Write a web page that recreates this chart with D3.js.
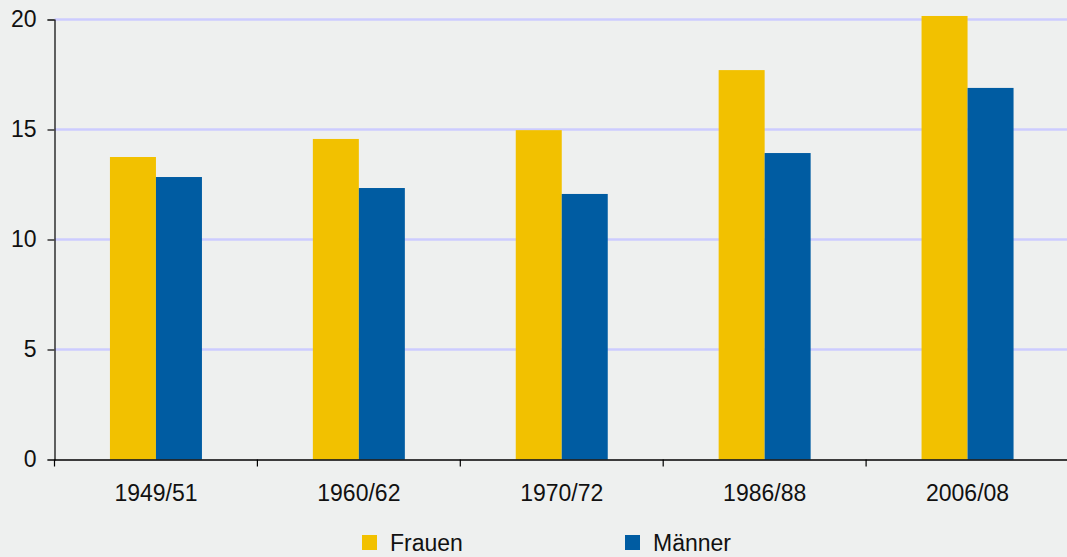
<!DOCTYPE html>
<html>
<head>
<meta charset="utf-8">
<script src="https://cdn.jsdelivr.net/npm/d3@7"></script>
<style>
  body { margin: 0; background: #eef0ef; }
  svg { display: block; font-family: "Liberation Sans", Arial, sans-serif; }
</style>
</head>
<body>
<svg width="1067" height="557"></svg>
<script>
const categories = ['1949/51', '1960/62', '1970/72', '1986/88', '2006/08'];
const series = ['Frauen', 'Männer'];
const frauen = [13.75, 14.57, 14.97, 17.7, 20.16];
const maenner = [12.84, 12.34, 12.07, 13.93, 16.89];
const yTicks = [0, 5, 10, 15, 20];
const colors = ['#f2c100', '#005ca2'];

const svg = d3.select('svg');
const plotLeft = 54.5, plotRight = 1069, plotTop = 19.5, plotBottom = 459.5;

const x = d3.scaleBand().domain(categories).range([plotLeft, plotRight]);
const xInner = d3.scaleBand().domain(series).range([0, 92]);
const y = d3.scaleLinear().domain([0, 20]).range([plotBottom, plotTop]);

// gridlines
svg.append('g')
  .selectAll('line')
  .data(yTicks.filter(d => d > 0))
  .enter()
  .append('line')
  .attr('x1', plotLeft)
  .attr('x2', 1067)
  .attr('y1', d => y(d))
  .attr('y2', d => y(d))
  .attr('stroke', '#ccccff')
  .attr('stroke-width', 2.5);

// bars
const rows = categories.map((c, i) => ({ cat: c, values: [frauen[i], maenner[i]] }));
const groups = svg.append('g')
  .selectAll('g')
  .data(rows)
  .enter()
  .append('g')
  .attr('transform', d => `translate(${x(d.cat) + (x.bandwidth() - 92) / 2},0)`);

groups.selectAll('rect')
  .data(d => d.values.map((v, j) => ({ key: series[j], v, j })))
  .enter()
  .append('rect')
  .attr('x', d => xInner(d.key))
  .attr('width', xInner.bandwidth())
  .attr('y', d => y(d.v))
  .attr('height', d => y(0) - y(d.v))
  .attr('fill', d => colors[d.j]);

// y axis
const yAxis = svg.append('g')
  .attr('transform', `translate(${plotLeft},0)`)
  .call(d3.axisLeft(y).tickValues(yTicks).tickSize(7).tickPadding(11));
yAxis.select('.domain').attr('stroke', '#000').attr('stroke-width', 1.2);
yAxis.selectAll('line').attr('stroke', '#333').attr('stroke-width', 1.5);
yAxis.selectAll('text').attr('font-size', 23).attr('fill', '#111');

// x axis
const xAxis = svg.append('g')
  .attr('transform', `translate(0,${plotBottom})`)
  .call(d3.axisBottom(x).tickSize(0).tickPadding(25));
xAxis.select('.domain').attr('d', `M${plotLeft},0.5H1067`).attr('stroke', '#000').attr('stroke-width', 1.5);
xAxis.selectAll('text').attr('font-size', 23).attr('fill', '#111');

// band boundary ticks
xAxis.append('g')
  .selectAll('line')
  .data(categories)
  .enter()
  .append('line')
  .attr('x1', d => x(d))
  .attr('x2', d => x(d))
  .attr('y1', 0)
  .attr('y2', 7)
  .attr('stroke', '#000')
  .attr('stroke-width', 1.2);

// legend
const legendX = [362, 625];
const legend = svg.append('g')
  .selectAll('g')
  .data(series)
  .enter()
  .append('g')
  .attr('transform', (d, i) => `translate(${legendX[i]},535)`);
legend.append('rect')
  .attr('width', 15)
  .attr('height', 15)
  .attr('fill', (d, i) => colors[i]);
legend.append('text')
  .attr('x', 28)
  .attr('y', 15.5)
  .attr('font-size', 23)
  .attr('fill', '#111')
  .text(d => d);
</script>
</body>
</html>
